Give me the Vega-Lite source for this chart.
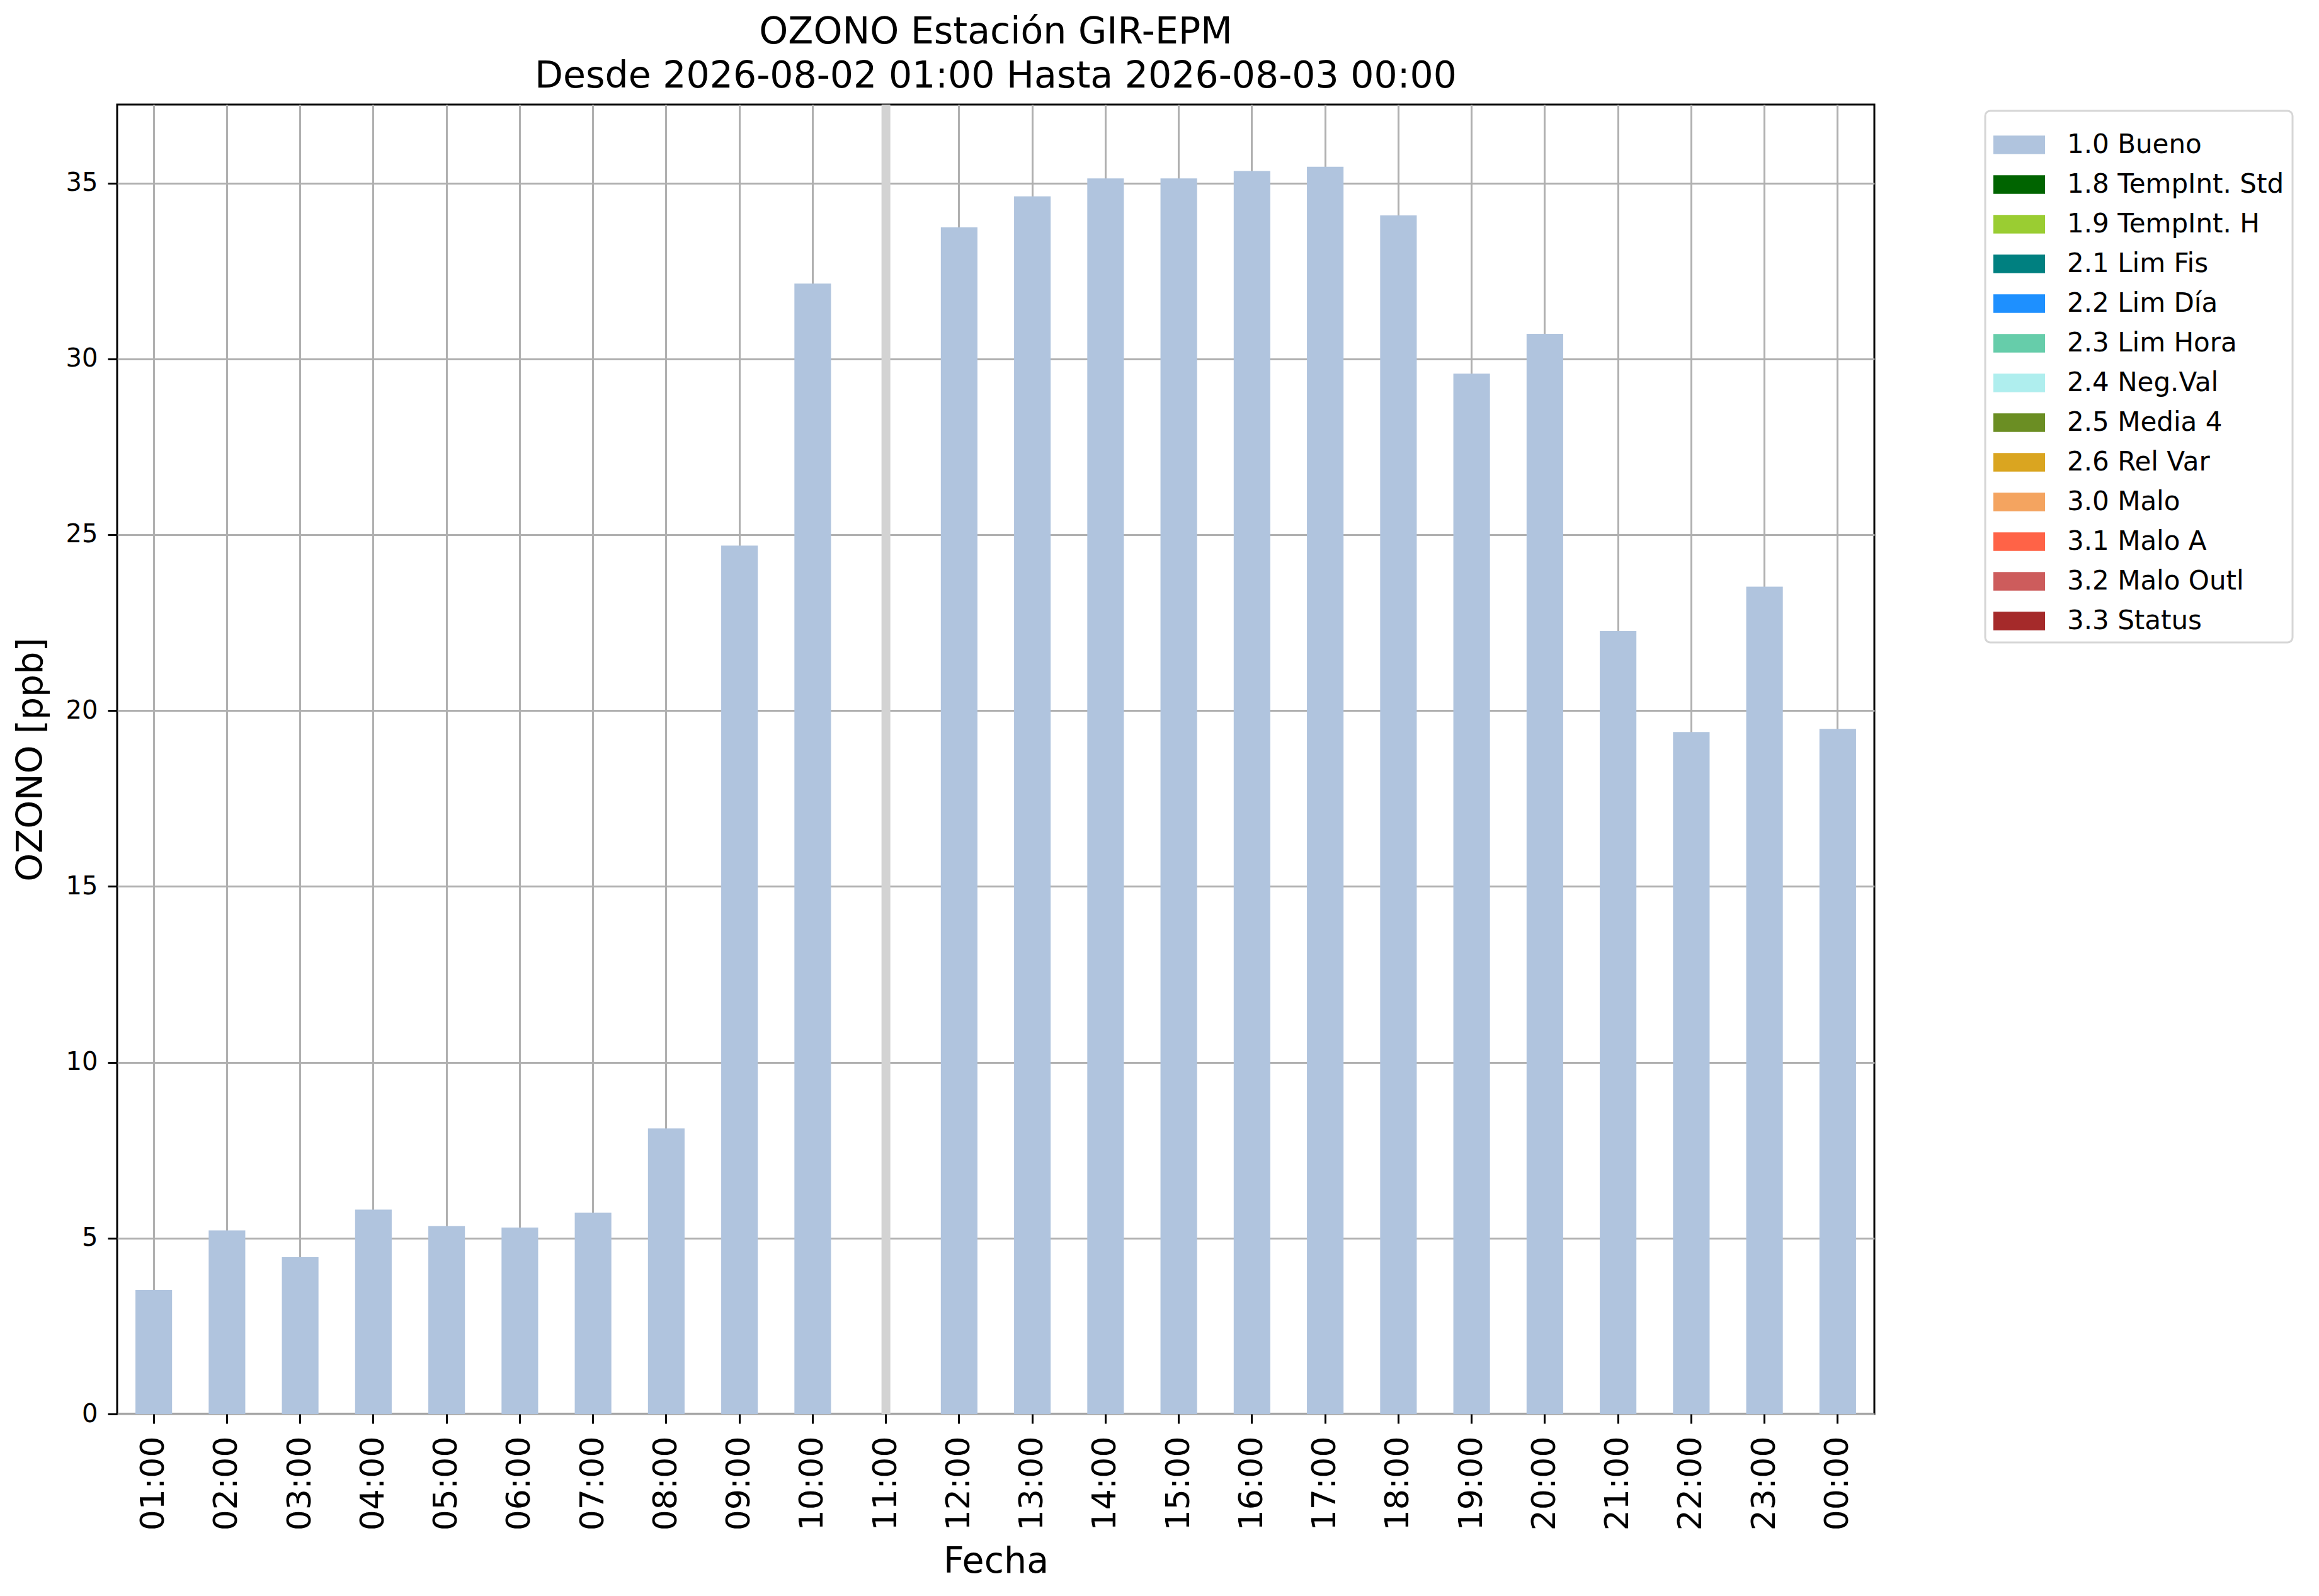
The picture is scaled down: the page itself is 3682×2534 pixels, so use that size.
{
  "$schema": "https://vega.github.io/schema/vega-lite/v6.json",
  "width": 2790,
  "height": 2079,
  "autosize": {"type": "none"},
  "padding": {"left": 186, "top": 166, "right": 706, "bottom": 289},
  "background": "white",
  "title": {
    "text": ["OZONO Estación GIR-EPM", "Desde 2026-08-02 01:00 Hasta 2026-08-03 00:00"],
    "fontSize": 58.5,
    "fontWeight": "normal",
    "font": "DejaVu Sans",
    "color": "black",
    "lineHeight": 70,
    "anchor": "middle",
    "frame": "group",
    "offset": 8
  },
  "config": {
    "font": "DejaVu Sans",
    "view": {"stroke": "black", "strokeWidth": 3},
    "axis": {
      "labelColor": "black",
      "titleColor": "black",
      "titleFontWeight": "normal",
      "tickColor": "black",
      "tickWidth": 3,
      "tickSize": 15,
      "domain": false,
      "grid": true,
      "gridColor": "#b0b0b0",
      "gridWidth": 3,
      "zindex": 1
    }
  },
  "data": {
    "values": [
      {"hora": "01:00", "ozono": 3.53, "flag": "1.0 Bueno"},
      {"hora": "02:00", "ozono": 5.22, "flag": "1.0 Bueno"},
      {"hora": "03:00", "ozono": 4.46, "flag": "1.0 Bueno"},
      {"hora": "04:00", "ozono": 5.81, "flag": "1.0 Bueno"},
      {"hora": "05:00", "ozono": 5.34, "flag": "1.0 Bueno"},
      {"hora": "06:00", "ozono": 5.30, "flag": "1.0 Bueno"},
      {"hora": "07:00", "ozono": 5.72, "flag": "1.0 Bueno"},
      {"hora": "08:00", "ozono": 8.12, "flag": "1.0 Bueno"},
      {"hora": "09:00", "ozono": 24.69, "flag": "1.0 Bueno"},
      {"hora": "10:00", "ozono": 32.14, "flag": "1.0 Bueno"},
      {"hora": "11:00", "ozono": null, "flag": "1.0 Bueno"},
      {"hora": "12:00", "ozono": 33.74, "flag": "1.0 Bueno"},
      {"hora": "13:00", "ozono": 34.62, "flag": "1.0 Bueno"},
      {"hora": "14:00", "ozono": 35.13, "flag": "1.0 Bueno"},
      {"hora": "15:00", "ozono": 35.13, "flag": "1.0 Bueno"},
      {"hora": "16:00", "ozono": 35.34, "flag": "1.0 Bueno"},
      {"hora": "17:00", "ozono": 35.46, "flag": "1.0 Bueno"},
      {"hora": "18:00", "ozono": 34.08, "flag": "1.0 Bueno"},
      {"hora": "19:00", "ozono": 29.58, "flag": "1.0 Bueno"},
      {"hora": "20:00", "ozono": 30.71, "flag": "1.0 Bueno"},
      {"hora": "21:00", "ozono": 22.26, "flag": "1.0 Bueno"},
      {"hora": "22:00", "ozono": 19.39, "flag": "1.0 Bueno"},
      {"hora": "23:00", "ozono": 23.52, "flag": "1.0 Bueno"},
      {"hora": "00:00", "ozono": 19.48, "flag": "1.0 Bueno"}
    ]
  },
  "encoding": {
    "x": {
      "field": "hora",
      "type": "ordinal",
      "sort": null,
      "scale": {
        "domain": ["01:00", "02:00", "03:00", "04:00", "05:00", "06:00", "07:00", "08:00", "09:00", "10:00", "11:00", "12:00", "13:00", "14:00", "15:00", "16:00", "17:00", "18:00", "19:00", "20:00", "21:00", "22:00", "23:00", "00:00"],
        "paddingInner": 0.5,
        "paddingOuter": 0.25
      },
      "axis": {
        "title": "Fecha",
        "titleFontSize": 57,
        "titlePadding": 22,
        "labelFontSize": 52,
        "labelAngle": 270,
        "labelPadding": 20,
        "bandPosition": 0.5
      }
    }
  },
  "layer": [
    {
      "transform": [{"filter": "datum.ozono === null"}],
      "mark": {"type": "rule", "color": "#d3d3d3", "strokeWidth": 14},
      "encoding": {
        "x": {"field": "hora", "type": "ordinal", "sort": null, "bandPosition": 0.5}
      }
    },
    {
      "mark": {"type": "bar"},
      "encoding": {
        "y": {
          "field": "ozono",
          "type": "quantitative",
          "scale": {"domain": [0, 37.23], "nice": false},
          "axis": {
            "title": "OZONO [ppb]",
            "titleFontSize": 57,
            "titlePadding": 26,
            "labelFontSize": 40,
            "labelPadding": 16,
            "values": [0, 5, 10, 15, 20, 25, 30, 35]
          }
        },
        "color": {
          "field": "flag",
          "type": "nominal",
          "scale": {
            "domain": ["1.0 Bueno", "1.8 TempInt. Std", "1.9 TempInt. H", "2.1 Lim Fis", "2.2 Lim Día", "2.3 Lim Hora", "2.4 Neg.Val", "2.5 Media 4", "2.6 Rel Var", "3.0 Malo", "3.1 Malo A", "3.2 Malo Outl", "3.3 Status"],
            "range": ["#b0c4de", "#006400", "#9acd32", "#008080", "#1e90ff", "#66cdaa", "#afeeee", "#6b8e23", "#daa520", "#f4a460", "#ff6347", "#cd5c5c", "#a52a2a"]
          },
          "legend": {
            "title": null,
            "orient": "none",
            "legendX": 2966,
            "legendY": 10,
            "symbolType": "M-1,-0.36H1V0.36H-1Z",
            "symbolSize": 6724,
            "symbolStrokeWidth": 0,
            "symbolOpacity": 1,
            "labelFontSize": 42,
            "labelColor": "black",
            "labelOffset": 35,
            "labelLimit": 1000,
            "rowPadding": 1,
            "padding": 13,
            "strokeColor": "#d6d6d6",
            "cornerRadius": 8,
            "fillColor": "white",
            "encode": {
              "legend": {"update": {"strokeWidth": {"value": 3}}}
            }
          }
        }
      }
    }
  ]
}
